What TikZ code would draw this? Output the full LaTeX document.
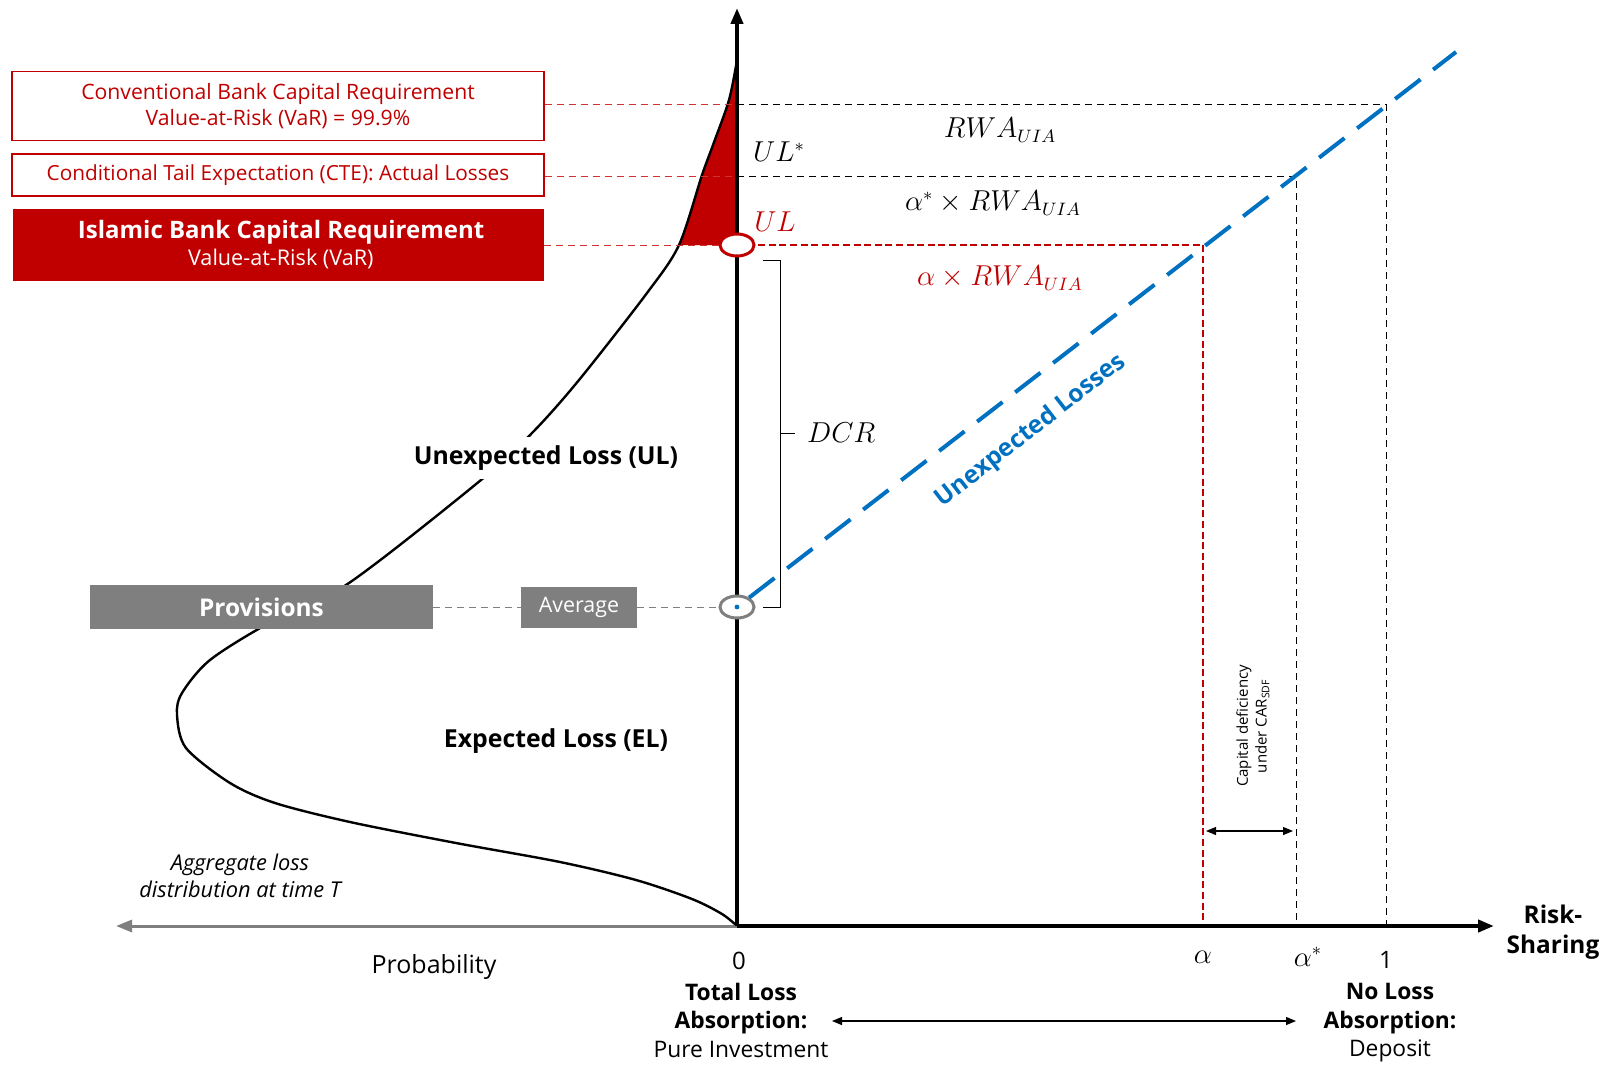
\documentclass[tikz,border=0pt]{standalone}
\usepackage{fontspec}
\setmainfont{Open Sans}
\usetikzlibrary{shapes.geometric,arrows.meta}
\definecolor{darkred}{RGB}{192,0,0}
\definecolor{boxgrey}{RGB}{127,127,127}
\definecolor{lossblue}{RGB}{0,112,192}
\newcommand{\fs}[1]{\fontsize{#1}{\dimexpr#1pt*5/4\relax}\selectfont}

\begin{document}
\begin{tikzpicture}[x=0.5pt,y=-0.5pt,
  outbox/.style={draw=darkred, line width=0.6pt, text=darkred, inner sep=0pt, minimum width=266pt, align=center, font=\fs{10.6}},
  greybox/.style={fill=boxgrey, text=white, inner sep=0pt},
  guide/.style={dash pattern=on 3.5pt off 2.5pt, line width=0.5pt},
  redguide/.style={guide, darkred!80},
  ring/.style={ellipse, draw, fill=white, line width=1.5pt, minimum width=17pt, minimum height=11pt, inner sep=0pt},
  bold/.style={font=\bfseries\fs{12.4}, align=center},
  plain/.style={font=\fs{12}, align=center},
  mth/.style={font=\fs{13.5}},
  axistip/.style={-{Triangle[length=8pt,width=6pt]}},
  twotip/.style={line width=0.6pt, {Triangle[length=5pt,width=4pt]}-{Triangle[length=5pt,width=4pt]}}
]
\useasboundingbox (0,0) rectangle (1610,1065);

% loss distribution
\fill[darkred] plot[smooth] coordinates {(737,60) (729,100) (713,145) (702,175) (679,245)} -- (737,245) -- cycle;
\draw[line width=1.2pt] plot[smooth] coordinates {(737,60) (729,100) (713,145) (702,175) (679,245) (647,293) (579,380) (533,432) (481,480) (349,583) (269,623) (210,660) (182,693) (177,715) (186,748) (230,783) (275,803) (350,822) (456,843) (560,862) (636,880) (692,899) (722,914) (737,926)};

% boxes on the left
\node[outbox, minimum height=34.5pt] (conv) at (278,106) {Conventional Bank Capital Requirement\\Value-at-Risk (VaR) = 99.9\%};
\node[outbox, minimum height=21pt, font=\fs{10.4}] (cte) at (278,175) {Conditional Tail Expectation (CTE): Actual Losses};
\node[fill=darkred, text=white, inner sep=0pt, minimum width=265.5pt, minimum height=36pt, align=center] (islam) at (278,245)
  {{\bfseries\fs{12} Islamic Bank Capital Requirement}\\[1.5pt]{\fs{10.8} Value-at-Risk (VaR)}};
\node[greybox, minimum width=171.5pt, minimum height=22pt, font=\bfseries\fs{12.2}] (prov) at (261.5,607) {Provisions};
\node[greybox, minimum width=58pt, minimum height=20.5pt, font=\fs{10.7}] (avglab) at (579,607) {Average};

\coordinate (O) at (737,926);
\coordinate (ytop) at (737,8);
\coordinate (xend) at (1494,926);
\coordinate (pend) at (116,926);
\coordinate (c1) at (1386,105);
\coordinate (c2) at (1296,176);
\coordinate (c3) at (1203,245);
\coordinate (bluetop) at (1456,52);

% guide lines
\draw[redguide] (conv.east |- c1) -- (O |- c1);
\draw[guide] (O |- c1) -- (c1) -- (c1 |- O);
\draw[redguide] (cte.east |- c2) -- (O |- c2);
\draw[guide] (O |- c2) -- (c2) -- (c2 |- O);
\draw[redguide] (islam.east) -- (O |- c3);
\draw[darkred, line width=1.3pt, dash pattern=on 3.5pt off 1.8pt] (O |- c3) -- (c3) -- (c3 |- O);
\draw[guide, boxgrey] (prov) -- (avglab);
\draw[guide, boxgrey] (avglab) -- (O |- avglab);

% axes
\draw[boxgrey, line width=1.5pt, axistip] (O) -- (pend);
\draw[line width=2pt, axistip] (O) -- (ytop);
\draw[line width=2pt, axistip] (O) -- (xend);

\node[ring, draw=darkred] (ul) at (737,245) {};
\node[ring, draw=boxgrey] (avg) at (737,607) {};
\fill[lossblue] (avg.center) circle (1.2pt);
\draw[lossblue, line width=2pt, dash pattern=on 16pt off 8pt] (avg) -- (bluetop);
\node[lossblue, font=\bfseries\fs{12.3}, rotate=37.8] (ulosses) at (1031,431) {Unexpected Losses};

% DCR bracket
\draw[line width=0.5pt] (763,260) -- (780,260) -- (780,607) -- (763,607);
\draw[line width=0.5pt] (780,433) -- (795,433);
\node[mth, anchor=west] (dcr) at (800,433) {$DCR$};

% labels
\node[mth] (ulstar) at (779,152) {$UL^{*}$};
\node[mth, text=darkred] (ullab) at (775,222) {$UL$};
\node[mth] (rwa) at (1000,130) {$RWA_{UIA}$};
\node[mth] (arwa) at (993,203) {$\alpha^{*}\times RWA_{UIA}$};
\node[mth, text=darkred] (brwa) at (1000,278) {$\alpha\times RWA_{UIA}$};

\node[bold, fill=white, inner xsep=1pt, inner ysep=4.5pt] (uloss) at (546,458) {Unexpected Loss (UL)};
\node[bold] (eloss) at (556,741) {Expected Loss (EL)};
\node[font=\itshape\fs{10.9}, align=center] (aggr) at (240,876) {Aggregate loss\\distribution at time T};
\node[plain, font=\fs{12.5}] (prob) at (434,967) {Probability};
\node[bold, font=\bfseries\fs{12.2}] (risk) at (1553,932) {Risk-\\Sharing};

\node[plain] (zero) at (739,961) {0};
\node[mth] (alpha) at (1203,957) {$\alpha$};
\node[mth] (alphas) at (1308,957) {$\alpha^{*}$};
\node[plain] (one) at (1386,960) {1};

\node[align=center, font=\fs{11.4}] (total) at (741,1020) {{\bfseries Total Loss}\\{\bfseries Absorption:}\\Pure Investment};
\node[align=center, font=\fs{11.4}] (noloss) at (1390,1023) {{\bfseries No Loss}\\{\bfseries Absorption:}\\Deposit};
\draw[twotip] (832,1021) -- (1296,1021);

% capital deficiency
\draw[twotip] (1206,831) -- (1293,831);
\node[rotate=90, align=center, font=\fs{7.5}] (capdef) at (1253,726) {Capital deficiency\\under CAR$_{\mathrm{\fs{5}SDF}}$};
\end{tikzpicture}
\end{document}
